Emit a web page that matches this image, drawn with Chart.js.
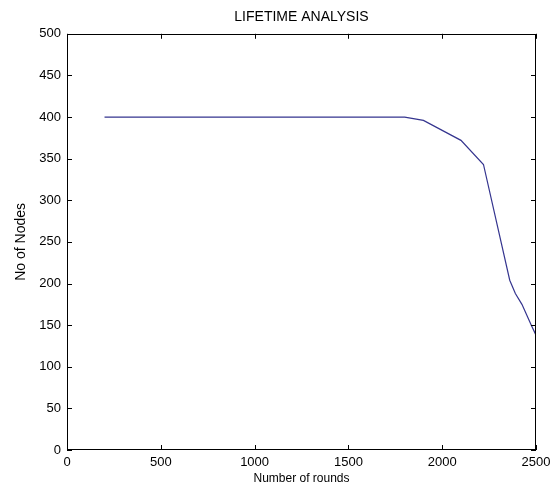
<!DOCTYPE html>
<html>
<head>
<meta charset="utf-8">
<script src="https://cdn.jsdelivr.net/npm/chart.js@4"></script>
<style>
    html, body { margin: 0; padding: 0; background: #fff; }
    #wrap { width: 558px; height: 492px; }
</style>
</head>
<body>
<div id="wrap"><canvas id="lifetimeChart" width="558" height="492"></canvas></div>
<script>
// Lifetime data
const rounds = [200, 1800, 1900, 2100, 2220, 2360, 2390, 2425, 2475, 2500];
const aliveNodes = [400, 400, 396, 372, 343, 204, 188, 175, 150, 138];

const xTicks = [0, 500, 1000, 1500, 2000, 2500];
const yTicks = [0, 50, 100, 150, 200, 250, 300, 350, 400, 450, 500];

const sans = "'Liberation Sans', Arial, sans-serif";

// MATLAB style box with inward ticks on all four sides
const boxTicks = {
    id: 'boxTicks',
    afterDraw(chart) {
        const { ctx, chartArea: a, scales: { x, y } } = chart;
        const len = 5;
        ctx.save();
        ctx.strokeStyle = '#000';
        ctx.lineWidth = 1;
        ctx.strokeRect(Math.round(a.left) + 0.5, Math.round(a.top) + 0.5,
            Math.round(a.width) - 1, Math.round(a.height) - 1);
        ctx.beginPath();
        x.ticks.forEach(t => {
            const px = Math.round(x.getPixelForValue(t.value)) + 0.5;
            ctx.moveTo(px, a.bottom);
            ctx.lineTo(px, a.bottom - len);
            ctx.moveTo(px, a.top);
            ctx.lineTo(px, a.top + len);
        });
        y.ticks.forEach(t => {
            const py = Math.round(y.getPixelForValue(t.value)) + 0.5;
            ctx.moveTo(a.left, py);
            ctx.lineTo(a.left + len, py);
            ctx.moveTo(a.right, py);
            ctx.lineTo(a.right - len, py);
        });
        ctx.stroke();
        ctx.restore();
    }
};

new Chart(document.getElementById('lifetimeChart'), {
    type: 'scatter',
    data: {
        datasets: [{
            label: 'Alive nodes',
            data: rounds.map((r, i) => ({ x: r, y: aliveNodes[i] })),
            showLine: true,
            borderColor: '#35358f',
            borderWidth: 1.2,
            pointRadius: 0,
            tension: 0
        }]
    },
    options: {
        responsive: false,
        animation: false,
        layout: { padding: { top: 0, right: 22, bottom: 0, left: 0 } },
        scales: {
            x: {
                type: 'linear',
                min: 0,
                max: 2500,
                afterFit: (s) => { s.height = 42; },
                afterBuildTicks: (s) => { s.ticks = xTicks.map(v => ({ value: v })); },
                grid: { drawOnChartArea: false, drawTicks: false },
                border: { display: false },
                ticks: {
                    padding: 5,
                    color: '#000',
                    maxRotation: 0,
                    callback: (v) => String(v),
                    font: { family: sans, size: 13 }
                },
                title: {
                    display: true,
                    text: 'Number of rounds',
                    color: '#000',
                    padding: { top: 0, bottom: 6 },
                    font: { family: sans, size: 12 }
                }
            },
            y: {
                min: 0,
                max: 500,
                afterFit: (s) => { s.width = 67; },
                afterBuildTicks: (s) => { s.ticks = yTicks.map(v => ({ value: v })); },
                grid: { drawOnChartArea: false, drawTicks: false },
                border: { display: false },
                ticks: {
                    padding: 6,
                    color: '#000',
                    callback: (v) => String(v),
                    font: { family: sans, size: 13 }
                },
                title: {
                    display: true,
                    text: 'No of Nodes',
                    color: '#000',
                    padding: { top: 13, bottom: 0 },
                    font: { family: sans, size: 14 }
                }
            }
        },
        plugins: {
            legend: { display: false },
            tooltip: { enabled: false },
            title: {
                display: true,
                fullSize: false,
                text: 'LIFETIME ANALYSIS',
                color: '#000',
                padding: { top: 9, bottom: 8 },
                font: { family: sans, size: 14, weight: 'normal' }
            }
        }
    },
    plugins: [boxTicks]
});
</script>
</body>
</html>
